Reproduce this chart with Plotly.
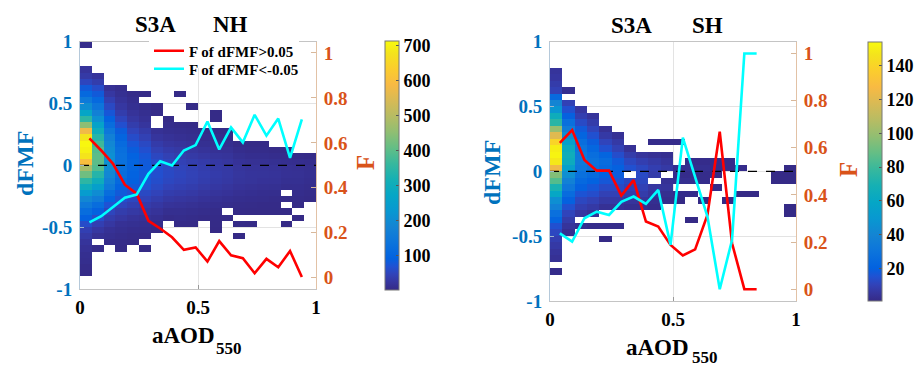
import plotly.graph_objects as go

W, H = 919, 369


def fx(p):
    return p / W


def fy(p):
    return 1 - p / H


# ---------------- data ----------------
# 2-D histogram bins (aAOD550 width 0.05, dFMF width 0.05)
AOD_CENTRES = [round(0.025 + 0.05 * i, 3) for i in range(20)]
DFMF_CENTRES = [round(-0.975 + 0.05 * j, 3) for j in range(40)]

# For every aAOD column: the upper dFMF edge of its first listed bin,
# followed by the counts going downward (0 = empty bin)
NH_TOP = [1.0, 0.75, 0.65, 0.65, 0.6, 0.6, 0.5, 0.4, 0.6, 0.5,
          0.3, 0.45, 0.3, 0.2, 0.2, 0.2, 0.15, 0.15, 0.1, 0.1]
NH_COUNTS = [
    [5, 0, 0, 0, 20, 30, 50, 80, 110, 150, 200, 270, 350, 450, 580, 680, 710, 700,
     680, 600, 480, 420, 350, 300, 240, 190, 150, 120, 90, 60, 40, 30, 20, 15, 10, 8, 5, 3],
    [20, 35, 60, 80, 110, 140, 170, 210, 260, 300, 340, 370, 390, 400, 400, 390, 340,
     300, 250, 200, 160, 120, 90, 60, 40, 25, 15, 0, 5],
    [15, 25, 40, 55, 75, 95, 120, 145, 170, 190, 200, 210, 210, 200, 190, 170, 150,
     120, 95, 70, 50, 35, 25, 15, 10, 5],
    [8, 12, 18, 25, 35, 50, 65, 85, 100, 115, 125, 130, 130, 125, 120, 110, 95, 80,
     65, 50, 35, 25, 15, 10, 6, 4, 2],
    [5, 8, 12, 18, 25, 35, 48, 60, 75, 85, 95, 100, 100, 95, 90, 80, 65, 52, 40, 28,
     18, 12, 7, 4, 2],
    [3, 0, 6, 10, 15, 22, 32, 42, 55, 65, 75, 80, 82, 80, 75, 68, 55, 45, 33, 24, 15,
     10, 6, 3, 0, 2],
    [3, 5, 0, 0, 15, 22, 32, 42, 52, 60, 65, 65, 62, 55, 46, 36, 26, 18, 11, 6, 3],
    [3, 6, 10, 16, 24, 33, 42, 50, 55, 56, 52, 45, 36, 27, 18, 10, 5],
    [2, 0, 0, 0, 0, 4, 8, 13, 20, 28, 36, 43, 48, 50, 47, 40, 32, 24, 16, 10, 6, 3],
    [2, 0, 0, 3, 6, 10, 16, 23, 30, 37, 42, 44, 42, 36, 29, 21, 14, 8, 5, 2],
    [3, 7, 12, 18, 25, 32, 36, 38, 36, 30, 24, 17, 11, 6, 3],
    [2, 2, 0, 3, 6, 10, 15, 21, 27, 31, 33, 31, 26, 20, 14, 9, 5, 3, 2, 1],
    [2, 5, 9, 14, 19, 24, 28, 29, 27, 22, 17, 11, 6, 0, 2],
    [3, 7, 12, 17, 21, 23, 21, 17, 13, 8, 5, 3, 0, 2, 0, 1],
    [2, 5, 9, 14, 18, 20, 19, 15, 11, 7, 4, 2, 0, 1],
    [2, 5, 9, 14, 18, 19, 17, 13, 9, 6, 3, 2],
    [3, 7, 12, 16, 18, 16, 12, 8, 5, 3, 2],
    [2, 6, 10, 14, 15, 12, 8, 0, 4, 0, 2, 0, 1],
    [4, 9, 13, 14, 12, 9, 6, 4, 2, 0, 1],
    [3, 7, 10, 11, 9, 6, 4, 2],
]

SH_TOP = [0.8, 0.65, 0.5, 0.45, 0.35, 0.3, 0.2, 0.15, 0.25, 0.25,
          0.25, 0.1, 0.1, 0.1, 0.1, 0.05, -0.15, 0.0, 0.0, 0.05]
SH_COUNTS = [
    [5, 6, 8, 10, 25, 40, 48, 65, 75, 100, 120, 140, 150, 152, 148, 125, 95, 85, 70,
     60, 45, 38, 28, 22, 15, 12, 9, 7, 5, 4, 0, 2],
    [3, 0, 10, 15, 20, 28, 35, 45, 55, 63, 66, 64, 55, 45, 38, 32, 26, 20, 15, 11, 8, 5, 3],
    [6, 9, 13, 18, 22, 27, 30, 33, 34, 32, 28, 24, 20, 16, 12, 9, 6, 0, 3],
    [5, 8, 11, 15, 19, 23, 27, 29, 28, 25, 21, 17, 14, 10, 7, 4, 0, 2],
    [4, 7, 11, 15, 22, 26, 24, 20, 17, 13, 10, 7, 4, 0, 0, 2, 0, 1],
    [4, 7, 10, 14, 18, 20, 19, 16, 13, 10, 7, 4, 0, 0, 2],
    [4, 8, 12, 15, 0, 12, 10, 8, 5, 3],
    [5, 9, 12, 13, 12, 10, 8, 5, 3],
    [2, 0, 4, 7, 9, 8, 0, 6, 5, 3, 2],
    [2, 0, 3, 5, 7, 0, 4, 5, 3, 2],
    [2, 0, 0, 0, 3, 2, 3, 0, 2, 1],
    [2, 3, 2, 3, 0, 2, 0, 0, 0, 1],
    [2, 3, 2, 2, 0, 0, 1],
    [2, 2, 1, 0, 2],
    [2, 2, 0, 0, 0, 0, 1],
    [2, 0, 0, 0, 1],
    [1],
    [],
    [1, 1],
    [1, 1, 1, 0, 0, 0, 1, 1],
]

# fraction lines (right axis F)
NH_F_X = [0.04, 0.09, 0.14, 0.19, 0.24, 0.29, 0.34, 0.39, 0.44, 0.49,
          0.54, 0.59, 0.64, 0.69, 0.74, 0.79, 0.84, 0.89, 0.94]
NH_F_POS = [0.62, 0.566, 0.507, 0.414, 0.374, 0.253, 0.219, 0.18, 0.124, 0.135,
            0.072, 0.163, 0.10, 0.087, 0.02, 0.084, 0.047, 0.119, 0.003]
NH_F_NEG = [0.246, 0.274, 0.315, 0.356, 0.37, 0.462, 0.518, 0.499, 0.566, 0.59,
            0.695, 0.571, 0.669, 0.602, 0.725, 0.632, 0.708, 0.533, 0.705]

SH_F_X = [0.04, 0.09, 0.14, 0.19, 0.24, 0.29, 0.34, 0.39, 0.44, 0.49,
          0.54, 0.59, 0.64, 0.69, 0.74, 0.79, 0.84]
SH_F_POS = [0.621, 0.675, 0.548, 0.503, 0.503, 0.397, 0.463, 0.287, 0.266, 0.188,
            0.143, 0.169, 0.315, 0.668, 0.195, 0.0, 0.0]
SH_F_NEG = [0.237, 0.202, 0.301, 0.329, 0.315, 0.371, 0.393, 0.362, 0.421, 0.188,
            0.643, 0.477, 0.308, 0.0, 0.209, 1.0, 1.0]

DFMF_TICKS = [-1, -0.5, 0, 0.5, 1]
DFMF_TICKTEXT = ["-1", "-0.5", "0", "0.5", "1"]
AOD_TICKS = [0, 0.5, 1]
AOD_TICKTEXT = ["0", "0.5", "1"]
F_TICKS = [0, 0.2, 0.4, 0.6, 0.8, 1]
F_TICKTEXT = ["0", "0.2", "0.4", "0.6", "0.8", "1"]
NH_CB_TICKS = [100, 200, 300, 400, 500, 600, 700]
SH_CB_TICKS = [20, 40, 60, 80, 100, 120, 140]

# ---------------- style ----------------
PARULA = [
    (0.2081, 0.1663, 0.5292), (0.2123, 0.2138, 0.6270), (0.1959, 0.2645, 0.7279),
    (0.1253, 0.3242, 0.8303), (0.0117, 0.3875, 0.8820), (0.0498, 0.4586, 0.8641),
    (0.0793, 0.5200, 0.8312), (0.0343, 0.5966, 0.8199), (0.0228, 0.6535, 0.7768),
    (0.0843, 0.6928, 0.7062), (0.2178, 0.7250, 0.6193), (0.3953, 0.7459, 0.5244),
    (0.5709, 0.7485, 0.4494), (0.7184, 0.7411, 0.3905), (0.8507, 0.7299, 0.3360),
    (0.9739, 0.7314, 0.2666), (0.9880, 0.8066, 0.1794), (0.9589, 0.8949, 0.1132),
    (0.9763, 0.9831, 0.0538),
]
PARULA_IDX = [0, 2, 4, 6, 8, 12, 16, 20, 24, 28, 32, 36, 40, 44, 48, 52, 56, 60, 63]
COLORSCALE = [[i / 63, "rgb(%d,%d,%d)" % (r * 255, g * 255, b * 255)]
              for i, (r, g, b) in zip(PARULA_IDX, PARULA)]

FONT = "Liberation Serif"
BLUE = "#0072BD"
ORANGE = "#D95319"
GRID = "#E3E3E3"


def build_grid(tops, counts):
    z = [[None] * len(AOD_CENTRES) for _ in DFMF_CENTRES]
    for c, (top, vals) in enumerate(zip(tops, counts)):
        k = int(round((top + 1) / 0.05)) - 1
        for v in vals:
            if v > 0:
                z[k][c] = v
            k -= 1
    return z


def tickfont(color="black", size=18):
    return dict(family=FONT, size=size, color=color, weight="bold")


fig = go.Figure()

panels = [
    dict(x="x", y="y", yf="y2", top=NH_TOP, counts=NH_COUNTS, zmin=1, zmax=714,
         cbx=385, cby0=41, cby1=290, cbt=NH_CB_TICKS,
         fx_=NH_F_X, pos=NH_F_POS, neg=NH_F_NEG, legend=True),
    dict(x="x2", y="y3", yf="y4", top=SH_TOP, counts=SH_COUNTS, zmin=1, zmax=154,
         cbx=868, cby0=41.7, cby1=301, cbt=SH_CB_TICKS,
         fx_=SH_F_X, pos=SH_F_POS, neg=SH_F_NEG, legend=False),
]

for p in panels:
    fig.add_trace(go.Heatmap(
        x=AOD_CENTRES, y=DFMF_CENTRES, z=build_grid(p["top"], p["counts"]),
        xaxis=p["x"], yaxis=p["y"], colorscale=COLORSCALE,
        zmin=p["zmin"], zmax=p["zmax"], hoverongaps=False,
        colorbar=dict(
            x=fx(p["cbx"]), xanchor="left", xpad=0, ypad=0,
            y=fy((p["cby0"] + p["cby1"]) / 2), yanchor="middle",
            len=(p["cby1"] - p["cby0"]) / H, lenmode="fraction",
            thickness=14, thicknessmode="pixels",
            tickvals=p["cbt"], ticks="inside", ticklen=3, tickcolor="#555",
            tickfont=tickfont(), outlinewidth=1, outlinecolor="#777",
        ),
    ))
    fig.add_trace(go.Scatter(
        x=[0, 1], y=[0, 0], xaxis=p["x"], yaxis=p["y"], mode="lines",
        line=dict(color="black", width=1.3, dash="dash"), showlegend=False,
        hoverinfo="skip"))
    fig.add_trace(go.Scatter(
        x=p["fx_"], y=p["pos"], xaxis=p["x"], yaxis=p["yf"], mode="lines",
        line=dict(color="#FF0000", width=2.6), name="F of dFMF>0.05",
        showlegend=p["legend"], legend="legend"))
    fig.add_trace(go.Scatter(
        x=p["fx_"], y=p["neg"], xaxis=p["x"], yaxis=p["yf"], mode="lines",
        line=dict(color="#00FFFF", width=2.6), name="F of dFMF<-0.05",
        showlegend=p["legend"], legend="legend2"))


def xaxis(dom, anchor):
    return dict(domain=dom, anchor=anchor, range=[0, 1], tickvals=AOD_TICKS,
                ticktext=AOD_TICKTEXT, tickfont=tickfont(size=19), showgrid=True,
                gridcolor=GRID, zeroline=False, showline=True, linecolor="#C4C4C4",
                linewidth=1, mirror=True, ticks="inside", ticklen=4, tickcolor="#999",
                ticklabelstandoff=1)


def yaxis(dom, anchor):
    return dict(domain=dom, anchor=anchor, range=[-1, 1], tickvals=DFMF_TICKS,
                ticktext=DFMF_TICKTEXT, tickfont=tickfont(BLUE, 19), showgrid=True,
                gridcolor=GRID, zeroline=False, showline=True, linecolor="#B5C9DA",
                linewidth=1, ticks="inside", ticklen=4, tickcolor="#9FB8CC",
                ticklabelstandoff=3)


def faxis(over, anchor):
    return dict(overlaying=over, anchor=anchor, side="right", range=[-0.05, 1.05],
                tickvals=F_TICKS, ticktext=F_TICKTEXT, tickfont=tickfont(ORANGE, 19),
                showgrid=False, zeroline=False, showline=True, linecolor="#E2C2A6",
                linewidth=1, ticks="inside", ticklen=5, tickcolor="#D8B89A",
                ticklabelstandoff=3)


ann = []


def text(s, x, y, size, color="black", angle=0):
    ann.append(dict(text=s, x=fx(x), y=fy(y), xref="paper", yref="paper",
                    xanchor="center", yanchor="middle", showarrow=False,
                    textangle=angle,
                    font=dict(family=FONT, size=size, color=color, weight="bold")))


# titles
text("S3A", 155, 24, 23)
text("NH", 230.5, 24, 23)
text("S3A", 631, 25, 23)
text("SH", 707.5, 25, 23)
# axis titles
text("dFMF", 25, 164, 24, BLUE, -90)
text("F", 365, 163, 25, ORANGE, -90)
text("dFMF", 492, 172, 24, BLUE, -90)
text("F", 848, 170, 25, ORANGE, -90)
text("aAOD", 183, 335, 23)
text("550", 229, 348, 17)
text("aAOD", 657, 347, 23)
text("550", 705, 357, 17)

LEG = dict(xanchor="left", yanchor="middle", borderwidth=0,
           font=dict(family=FONT, size=15, color="black", weight="bold"),
           itemwidth=30)

fig.update_layout(
    width=W, height=H, margin=dict(l=0, r=0, t=0, b=0, autoexpand=False),
    paper_bgcolor="white", plot_bgcolor="white",
    xaxis=xaxis([fx(80), fx(316)], "y"),
    yaxis=yaxis([fy(289), fy(41.7)], "x"),
    yaxis2=faxis("y", "x"),
    xaxis2=xaxis([fx(550), fx(796)], "y3"),
    yaxis3=yaxis([fy(301), fy(41.7)], "x2"),
    yaxis4=faxis("y3", "x2"),
    showlegend=True,
    legend=dict(x=fx(149), y=fy(51), bgcolor="white", **LEG),
    legend2=dict(x=fx(149), y=fy(69), bgcolor="rgba(255,255,255,0)", **LEG),
    annotations=ann,
)

fig.write_html("out.html")
